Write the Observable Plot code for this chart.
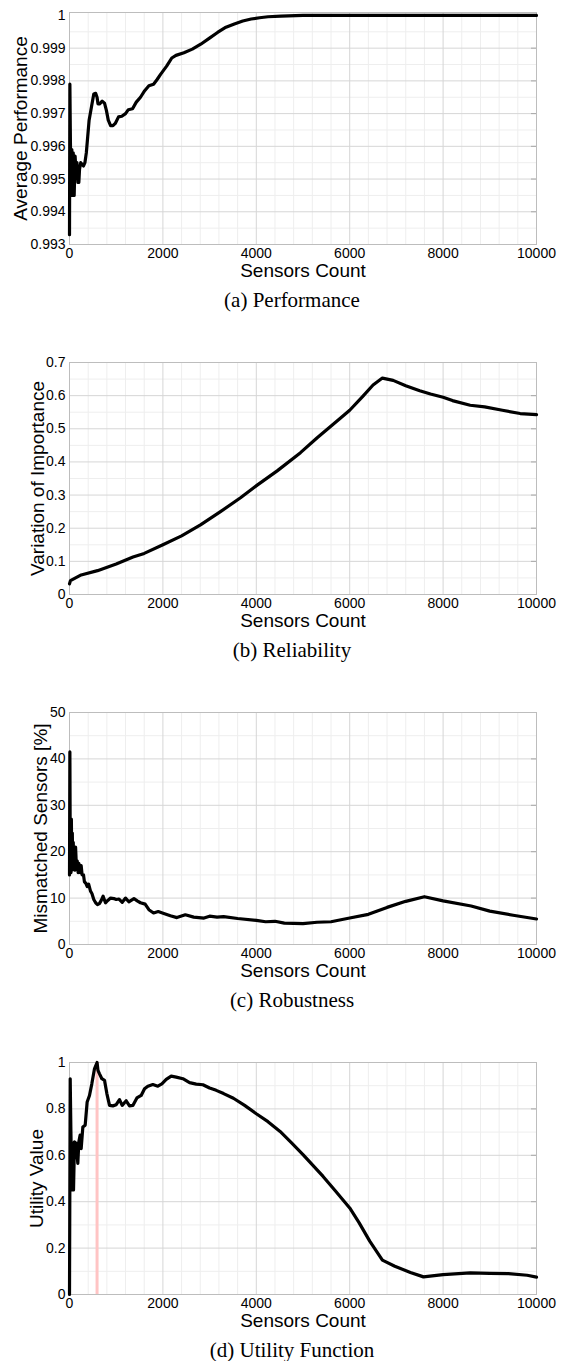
<!DOCTYPE html>
<html>
<head>
<meta charset="utf-8">
<script src="https://cdn.jsdelivr.net/npm/d3@7"></script>
<script src="https://cdn.jsdelivr.net/npm/@observablehq/plot@0.6"></script>
<style>
  html, body { margin: 0; padding: 0; background: #fff; }
  .panel svg { display: block; }
  .cap { height: 66px; box-sizing: border-box; padding-top: 6px; padding-left: 21px;
         text-align: center; font-family: "Liberation Serif", "Times New Roman", serif;
         font-size: 21px; line-height: 21px; color: #000; }
</style>
</head>
<body>
<div id="root"></div>
<script>
// ---- shared x axis ----
const xTicks = [0, 2000, 4000, 6000, 8000, 10000];
const xTickLabels = ["0", "2000", "4000", "6000", "8000", "10000"];
const xMinorTicks = [400, 800, 1200, 1600, 2400, 2800, 3200, 3600, 4400, 4800, 5200, 5600, 6400, 6800, 7200, 7600, 8400, 8800, 9200, 9600];
const xLabel = "Sensors Count";

// ---- (a) Performance ----
const perfX = [0, 8, 20, 35, 50, 65, 80, 100, 120, 140, 160, 180, 200, 215, 240, 270, 300, 330, 360, 390, 420, 470, 520, 560, 590, 610, 650, 700, 750, 790, 830, 880, 930, 980, 1050, 1120, 1200, 1260, 1350, 1430, 1520, 1610, 1700, 1800, 1880, 1950, 2080, 2190, 2280, 2450, 2630, 2810, 2990, 3170, 3350, 3530, 3710, 3890, 4070, 4250, 4530, 5000, 6000, 8000, 10000];
const perfY = [0.9933, 0.9979, 0.9961, 0.9945, 0.9959, 0.9945, 0.9958, 0.9945, 0.9957, 0.9952, 0.9955, 0.9949, 0.9949, 0.9953, 0.9955, 0.99545, 0.9954, 0.9955, 0.9958, 0.9963, 0.9968, 0.9972, 0.9976, 0.99762, 0.9975, 0.9973, 0.9973, 0.99738, 0.99732, 0.9971, 0.9968, 0.99663, 0.99663, 0.9967, 0.9969, 0.99692, 0.997, 0.99712, 0.99715, 0.99735, 0.9975, 0.9977, 0.99785, 0.9979, 0.99805, 0.9982, 0.99845, 0.9987, 0.99878, 0.99886, 0.99897, 0.99912, 0.9993, 0.99948, 0.99964, 0.99974, 0.99983, 0.99989, 0.99993, 0.99996, 0.99998, 1.0, 1.0, 1.0, 1.0];
const perfYTicks = [0.993, 0.994, 0.995, 0.996, 0.997, 0.998, 0.999, 1];
const perfYTickLabels = ["0.993", "0.994", "0.995", "0.996", "0.997", "0.998", "0.999", "1"];
const perfYMinor = [0.9935, 0.9945, 0.9955, 0.9965, 0.9975, 0.9985, 0.9995];

// ---- (b) Reliability ----
const relX = [0, 20, 100, 250, 600, 1000, 1360, 1600, 2000, 2400, 2805, 3233, 3662, 4019, 4447, 4946, 5304, 5767, 6000, 6280, 6500, 6700, 6930, 7200, 7500, 7730, 8000, 8200, 8580, 8890, 9270, 9650, 10000];
const relY = [0.032, 0.042, 0.048, 0.059, 0.072, 0.092, 0.113, 0.124, 0.150, 0.177, 0.210, 0.250, 0.292, 0.330, 0.373, 0.428, 0.473, 0.528, 0.556, 0.598, 0.632, 0.653, 0.646, 0.630, 0.615, 0.605, 0.595, 0.585, 0.571, 0.566, 0.556, 0.546, 0.543];
const relYTicks = [0, 0.1, 0.2, 0.3, 0.4, 0.5, 0.6, 0.7];
const relYTickLabels = ["0", "0.1", "0.2", "0.3", "0.4", "0.5", "0.6", "0.7"];
const relYMinor = [0.05, 0.15, 0.25, 0.35, 0.45, 0.55, 0.65];

// ---- (c) Robustness ----
const robX = [0, 8, 16, 24, 32, 40, 50, 60, 70, 80, 90, 100, 115, 130, 145, 165, 185, 200, 230, 250, 270, 300, 320, 350, 380, 410, 450, 480, 520, 560, 600, 640, 680, 720, 770, 820, 880, 950, 1000, 1060, 1130, 1200, 1270, 1380, 1450, 1520, 1620, 1700, 1800, 1900, 2020, 2160, 2300, 2480, 2660, 2880, 3000, 3160, 3300, 3600, 4000, 4200, 4400, 4600, 5000, 5300, 5600, 6000, 6400, 6800, 7200, 7600, 8000, 8600, 9000, 9500, 10000];
const robY = [15, 41.5, 20, 27, 15.5, 27, 16, 24, 17, 22, 19, 21, 16, 21, 17.5, 18, 15.5, 17.5, 15.5, 17, 15, 15, 13.5, 13.2, 12.5, 13, 11.5, 11, 9.7, 9, 8.6, 8.8, 9.5, 10.4, 9, 9.5, 10, 9.9, 9.7, 9.8, 9.1, 10, 9.2, 9.9, 9.4, 9, 8.7, 7.5, 6.8, 7.1, 6.7, 6.2, 5.8, 6.4, 5.9, 5.7, 6.1, 5.9, 6, 5.6, 5.2, 4.9, 5, 4.6, 4.5, 4.8, 4.9, 5.7, 6.5, 8, 9.3, 10.3, 9.4, 8.3, 7.2, 6.3, 5.5];
const robYTicks = [0, 10, 20, 30, 40, 50];
const robYTickLabels = ["0", "10", "20", "30", "40", "50"];
const robYMinor = [5, 15, 25, 35, 45];

// ---- (d) Utility Function ----
const utilX = [0, 15, 30, 50, 71, 86, 107, 143, 178, 200, 228, 250, 286, 336, 378, 428, 478, 535, 590, 610, 643, 693, 750, 800, 857, 928, 1000, 1071, 1128, 1214, 1285, 1357, 1443, 1535, 1607, 1678, 1785, 1892, 1978, 2071, 2178, 2285, 2428, 2571, 2714, 2857, 3000, 3142, 3300, 3510, 3750, 4000, 4250, 4509, 4750, 5000, 5430, 5700, 6000, 6200, 6429, 6700, 6966, 7300, 7580, 8000, 8580, 9000, 9400, 9800, 10000];
const utilY = [0, 0.93, 0.70, 0.451, 0.651, 0.451, 0.658, 0.651, 0.565, 0.658, 0.687, 0.629, 0.722, 0.73, 0.83, 0.858, 0.908, 0.973, 1.0, 0.966, 0.951, 0.93, 0.923, 0.866, 0.815, 0.813, 0.818, 0.84, 0.815, 0.835, 0.813, 0.815, 0.847, 0.858, 0.887, 0.898, 0.905, 0.898, 0.908, 0.927, 0.941, 0.937, 0.93, 0.913, 0.907, 0.904, 0.89, 0.88, 0.866, 0.846, 0.815, 0.779, 0.745, 0.703, 0.655, 0.603, 0.509, 0.445, 0.373, 0.31, 0.23, 0.148, 0.122, 0.095, 0.076, 0.086, 0.093, 0.091, 0.09, 0.083, 0.075];
const utilYTicks = [0, 0.2, 0.4, 0.6, 0.8, 1];
const utilYTickLabels = ["0", "0.2", "0.4", "0.6", "0.8", "1"];
const utilYMinor = [0.1, 0.3, 0.5, 0.7, 0.9];
const utilPeakX = [590];

const panels = [
  {xs: perfX, ys: perfY, domain: [0.993, 1.00009], ticks: perfYTicks, labels: perfYTickLabels, minor: perfYMinor, ylabel: "Average Performance", ylabelX: 20, caption: "(a) Performance"},
  {xs: relX, ys: relY, domain: [0, 0.7], ticks: relYTicks, labels: relYTickLabels, minor: relYMinor, ylabel: "Variation of Importance", ylabelX: 37, caption: "(b) Reliability"},
  {xs: robX, ys: robY, domain: [0, 50], ticks: robYTicks, labels: robYTickLabels, minor: robYMinor, ylabel: "Mismatched Sensors [%]", ylabelX: 40, caption: "(c) Robustness"},
  {xs: utilX, ys: utilY, domain: [0, 1], ticks: utilYTicks, labels: utilYTickLabels, minor: utilYMinor, ylabel: "Utility Value", ylabelX: 36, caption: "(d) Utility Function", peak: utilPeakX}
];

const ML = 69, MR = 27, MT = 12, MB = 40;
const root = document.getElementById("root");

for (const p of panels) {
  const data = p.xs.map((x, i) => ({x, y: p.ys[i]}));
  const inner = p.ticks.slice(1, -1);
  const marks = [
    Plot.gridX({ticks: xMinorTicks, stroke: "#eeeeee", strokeOpacity: 1}),
    Plot.gridY({ticks: p.minor, stroke: "#eeeeee", strokeOpacity: 1}),
    Plot.gridX({ticks: xTicks.slice(1, -1), stroke: "#d6d6d6", strokeOpacity: 1}),
    Plot.gridY({ticks: inner, stroke: "#d6d6d6", strokeOpacity: 1}),
    Plot.ruleY(inner, {x1: 10000, x2: 10000, insetLeft: -5, stroke: "#a8a8a8"}),
    Plot.frame({stroke: "#bdbdbd"}),
    Plot.axisX({ticks: xTicks, tickSize: 0, tickPadding: 4, label: null, fontSize: 14,
                tickFormat: d => xTickLabels[xTicks.indexOf(d)]}),
    Plot.axisY({ticks: p.ticks, tickSize: 0, tickPadding: 4, label: null, fontSize: 14,
                tickFormat: d => p.labels[p.ticks.indexOf(d)]}),
    Plot.text([xLabel], {frameAnchor: "bottom", dy: 26, lineAnchor: "middle", textAnchor: "middle", fontSize: 19, fill: "#000"}),
    Plot.text([p.ylabel], {frameAnchor: "left", dx: p.ylabelX - ML, rotate: -90, lineAnchor: "middle", textAnchor: "middle", fontSize: 19, fill: "#000"})
  ];
  if (p.peak) marks.push(Plot.ruleX(p.peak, {stroke: "#ffc4c4", strokeWidth: 3}));
  marks.push(Plot.line(data, {x: "x", y: "y", stroke: "#000", strokeWidth: 3.2, strokeLinejoin: "round", strokeLinecap: "round"}));

  const svg = Plot.plot({
    width: 563, height: 284,
    marginLeft: ML, marginRight: MR, marginTop: MT, marginBottom: MB,
    style: {fontFamily: "'Liberation Sans', Arial, Helvetica, sans-serif", fontSize: "14px", color: "#000", background: "#fff", overflow: "visible"},
    x: {domain: [0, 10000]},
    y: {domain: p.domain},
    marks
  });
  const wrap = document.createElement("div");
  wrap.className = "panel";
  wrap.appendChild(svg);
  const cap = document.createElement("div");
  cap.className = "cap";
  cap.textContent = p.caption;
  wrap.appendChild(cap);
  root.appendChild(wrap);
}
</script>
</body>
</html>
